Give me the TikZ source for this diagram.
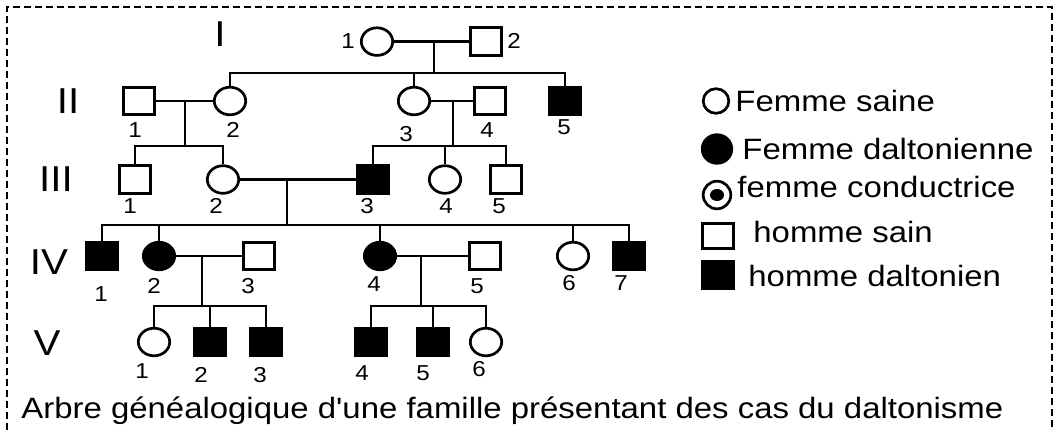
\documentclass[tikz,border=0pt]{standalone}
\usepackage{fontspec}
\newfontfamily\arial{Liberation Sans}[FakeStretch=1.12]
\usetikzlibrary{shapes.geometric}
\tikzset{
  homme/.style={draw, rectangle, minimum width=15.2pt, minimum height=13.8pt, inner sep=0pt, line width=1.35pt},
  femme/.style={draw, ellipse, minimum width=15.7pt, minimum height=13.8pt, inner sep=0pt, line width=1.35pt},
  malade/.style={fill=black},
  num/.style={font=\arial\fontsize{10.8}{13}\selectfont, inner sep=0pt},
  gen/.style={font=\arial\fontsize{18}{20}\selectfont, inner sep=0pt},
  lien/.style={line width=1.4pt},
  legende/.style={font=\arial\fontsize{14.7}{17}\selectfont, anchor=base west, inner sep=0pt}
}

\begin{document}
\begin{tikzpicture}[x=0.5pt, y=-0.5pt]
  \useasboundingbox (0,0) rectangle (1058,430);

  % cadre en pointilles
  \draw[dash pattern=on 3.5pt off 2pt, line width=0.85pt] (7,430) -- (7,7) -- (1052,7) -- (1052,430);

  % numeros des generations
  \node[gen] (gI) at (220,34) {I};
  \node[gen] (gII) at (68,101) {II};
  \node[gen] (gIII) at (56,179) {III};
  \node[gen] (gIV) at (49,262) {IV};
  \node[gen] (gV) at (47,343) {V};

  % generation I
  \node[femme] (I1) at (377,41.6) {};
  \node[homme] (I2) at (486,41.6) {};
  \node[num] (nI1) at (348,41) {1};
  \node[num] (nI2) at (514,41) {2};
  \coordinate (m1) at (434,41.6);
  \coordinate (s1) at (434,73);

  % generation II
  \node[homme] (II1) at (139,101) {};
  \node[femme] (II2) at (230,101) {};
  \node[femme] (II3) at (414,101) {};
  \node[homme] (II4) at (490,101) {};
  \node[homme, malade] (II5) at (565,101) {};
  \node[num] (nII1) at (135,130) {1};
  \node[num] (nII2) at (233,130) {2};
  \node[num] (nII3) at (406,134) {3};
  \node[num] (nII4) at (487,130) {4};
  \node[num] (nII5) at (564,127) {5};
  \coordinate (m2) at (185,101);
  \coordinate (s2) at (185,146);
  \coordinate (m3) at (453,101);
  \coordinate (s3) at (453,146);

  % generation III
  \node[homme] (III1) at (135,179.5) {};
  \node[femme] (III2) at (223,179.5) {};
  \node[homme, malade] (III3) at (373,179.5) {};
  \node[femme] (III4) at (445,179.5) {};
  \node[homme] (III5) at (506,179.5) {};
  \node[num] (nIII1) at (130,206) {1};
  \node[num] (nIII2) at (216,206) {2};
  \node[num] (nIII3) at (367,206) {3};
  \node[num] (nIII4) at (446,206) {4};
  \node[num] (nIII5) at (499,206) {5};
  \coordinate (m4) at (287,179.5);
  \coordinate (s4) at (287,225);

  % generation IV
  \node[homme, malade] (IV1) at (102,256) {};
  \node[femme, malade] (IV2) at (159,256) {};
  \node[homme] (IV3) at (259,256) {};
  \node[femme, malade] (IV4) at (380,256) {};
  \node[homme] (IV5) at (485,256) {};
  \node[femme] (IV6) at (573,256) {};
  \node[homme, malade] (IV7) at (629,256) {};
  \node[num] (nIV1) at (101,294) {1};
  \node[num] (nIV2) at (154,286) {2};
  \node[num] (nIV3) at (248,286) {3};
  \node[num] (nIV4) at (374,284) {4};
  \node[num] (nIV5) at (477,286) {5};
  \node[num] (nIV6) at (569,283) {6};
  \node[num] (nIV7) at (621,283) {7};
  \coordinate (m5) at (202,256);
  \coordinate (s5) at (202,306);
  \coordinate (m6) at (421,256);
  \coordinate (s6) at (421,306);

  % generation V
  \node[femme] (V1) at (154,342) {};
  \node[homme, malade] (V2) at (210,342) {};
  \node[homme, malade] (V3) at (266,342) {};
  \node[homme, malade] (V4) at (371,342) {};
  \node[homme, malade] (V5) at (433,342) {};
  \node[femme] (V6) at (486,342) {};
  \node[num] (nV1) at (142,371) {1};
  \node[num] (nV2) at (201,375) {2};
  \node[num] (nV3) at (260,375) {3};
  \node[num] (nV4) at (362,373) {4};
  \node[num] (nV5) at (423,373) {5};
  \node[num] (nV6) at (479,369) {6};

  % unions et descendances
  \draw[lien] (I1.east) -- (I2.west);
  \draw[lien] (m1) -- (s1);
  \draw[lien] (II2.north) -- (II2.north |- s1) -- (II5.north |- s1) -- (II5.north);
  \draw[lien] (II3.north) -- (II3.north |- s1);

  \draw[lien] (II1.east) -- (II2.west);
  \draw[lien] (m2) -- (s2);
  \draw[lien] (III1.north) -- (III1.north |- s2) -- (III2.north |- s2) -- (III2.north);

  \draw[lien] (II3.east) -- (II4.west);
  \draw[lien] (m3) -- (s3);
  \draw[lien] (III3.north) -- (III3.north |- s3) -- (III5.north |- s3) -- (III5.north);
  \draw[lien] (III4.north) -- (III4.north |- s3);

  \draw[lien] (III2.east) -- (III3.west);
  \draw[lien] (m4) -- (s4);
  \draw[lien] (IV1.north) -- (IV1.north |- s4) -- (IV7.north |- s4) -- (IV7.north);
  \draw[lien] (IV2.north) -- (IV2.north |- s4);
  \draw[lien] (IV4.north) -- (IV4.north |- s4);
  \draw[lien] (IV6.north) -- (IV6.north |- s4);

  \draw[lien] (IV2.east) -- (IV3.west);
  \draw[lien] (m5) -- (s5);
  \draw[lien] (V1.north) -- (V1.north |- s5) -- (V3.north |- s5) -- (V3.north);
  \draw[lien] (V2.north) -- (V2.north |- s5);

  \draw[lien] (IV4.east) -- (IV5.west);
  \draw[lien] (m6) -- (s6);
  \draw[lien] (V4.north) -- (V4.north |- s6) -- (V6.north |- s6) -- (V6.north);
  \draw[lien] (V5.north) -- (V5.north |- s6);

  % legende
  \node[femme, minimum width=12.8pt, minimum height=12.3pt] (lF) at (716,101) {};
  \node[femme, malade, minimum width=14.8pt, minimum height=14.3pt] (lFd) at (717,149) {};
  \node[femme, minimum width=13.8pt, minimum height=13.8pt] (lFc) at (717,195) {};
  \node[ellipse, fill=black, minimum width=7pt, minimum height=6pt, inner sep=0pt] (lFcd) at (lFc) {};
  \node[homme, minimum height=12.8pt] (lH) at (718,236) {};
  \node[homme, malade] (lHd) at (718,275) {};
  \node[legende] (tF) at (735,111) {Femme saine};
  \node[legende] (tFd) at (742,159) {Femme daltonienne};
  \node[legende] (tFc) at (737,197) {femme conductrice};
  \node[legende] (tH) at (753,242) {homme sain};
  \node[legende] (tHd) at (748,286) {homme daltonien};

  % titre
  \node[legende] (titre) at (21,418) {Arbre généalogique d'une famille présentant des cas du daltonisme};
\end{tikzpicture}
\end{document}
